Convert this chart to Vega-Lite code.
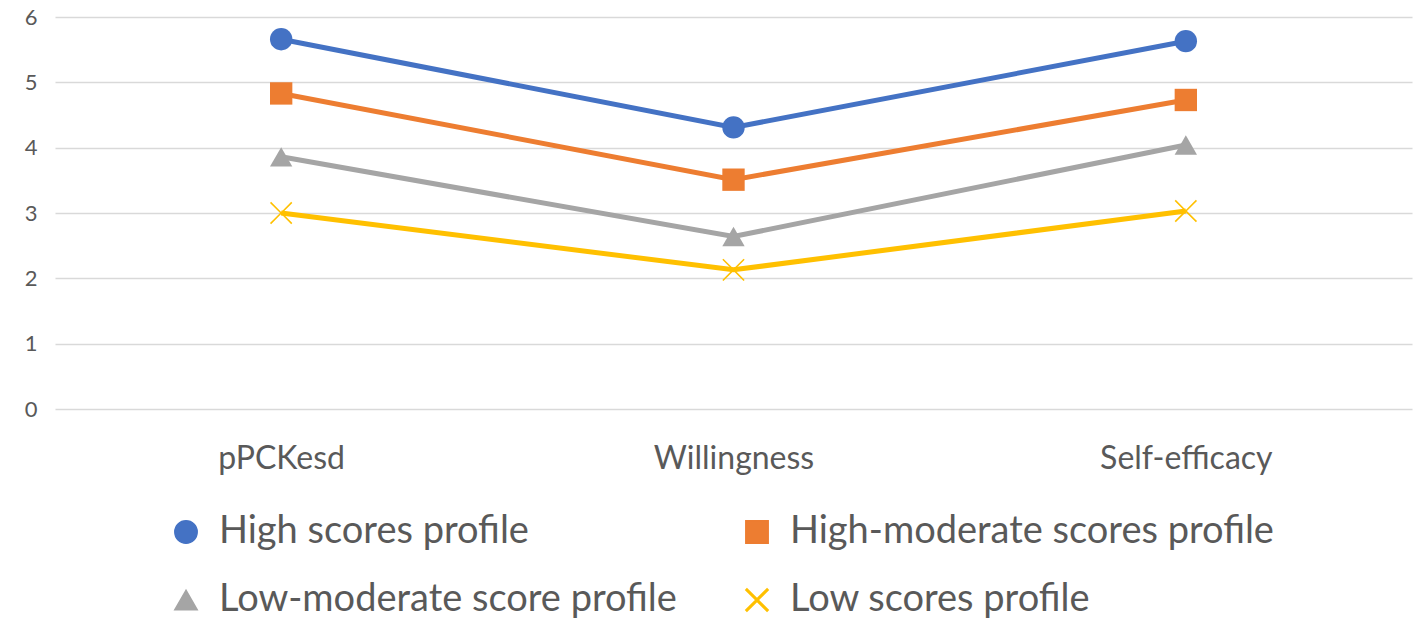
{
  "$schema": "https://vega.github.io/schema/vega-lite/v6.json",
  "width": 1357,
  "height": 392,
  "autosize": {"type": "none"},
  "padding": {"left": 55, "top": 17, "right": 14, "bottom": 211},
  "background": "white",
  "config": {
    "view": {"stroke": null},
    "font": "Lato"
  },
  "data": {
    "values": [
      {"profile": "High scores profile", "measure": "pPCKesd", "score": 5.66},
      {"profile": "High scores profile", "measure": "Willingness", "score": 4.31},
      {"profile": "High scores profile", "measure": "Self-efficacy", "score": 5.63},
      {"profile": "High-moderate scores profile", "measure": "pPCKesd", "score": 4.83},
      {"profile": "High-moderate scores profile", "measure": "Willingness", "score": 3.51},
      {"profile": "High-moderate scores profile", "measure": "Self-efficacy", "score": 4.73},
      {"profile": "Low-moderate score profile", "measure": "pPCKesd", "score": 3.86},
      {"profile": "Low-moderate score profile", "measure": "Willingness", "score": 2.64},
      {"profile": "Low-moderate score profile", "measure": "Self-efficacy", "score": 4.04},
      {"profile": "Low scores profile", "measure": "pPCKesd", "score": 3.0},
      {"profile": "Low scores profile", "measure": "Willingness", "score": 2.13},
      {"profile": "Low scores profile", "measure": "Self-efficacy", "score": 3.03}
    ]
  },
  "encoding": {
    "x": {
      "field": "measure",
      "type": "nominal",
      "sort": ["pPCKesd", "Willingness", "Self-efficacy"],
      "scale": {"type": "point", "padding": 0.5},
      "axis": {
        "title": null,
        "labelAngle": 0,
        "labelFontSize": 32,
        "labelColor": "#595959",
        "labelPadding": 34,
        "ticks": false,
        "domain": false,
        "grid": false
      }
    },
    "y": {
      "field": "score",
      "type": "quantitative",
      "scale": {"domain": [0, 6], "nice": false},
      "axis": {
        "title": null,
        "values": [0, 1, 2, 3, 4, 5, 6],
        "labelFontSize": 22,
        "labelColor": "#595959",
        "labelPadding": 18,
        "ticks": false,
        "domain": false,
        "grid": true,
        "gridColor": "#d9d9d9",
        "gridWidth": 1.5
      }
    },
    "color": {
      "field": "profile",
      "type": "nominal",
      "sort": ["High scores profile", "High-moderate scores profile", "Low-moderate score profile", "Low scores profile"],
      "scale": {
        "domain": ["High scores profile", "High-moderate scores profile", "Low-moderate score profile", "Low scores profile"],
        "range": ["#4472C4", "#ED7D31", "#A5A5A5", "#FFC000"]
      },
      "legend": {
        "title": null,
        "orient": "none",
        "legendX": 112,
        "legendY": 496,
        "direction": "horizontal",
        "columns": 2,
        "columnPadding": 61,
        "rowPadding": 30,
        "labelFontSize": 38,
        "labelColor": "#595959",
        "labelLimit": 800,
        "labelOffset": 14,
        "symbolSize": 500,
        "symbolOpacity": 1
      }
    }
  },
  "layer": [
    {
      "mark": {"type": "line", "strokeWidth": 5}
    },
    {
      "mark": {"type": "point", "filled": true, "opacity": 1},
      "encoding": {
        "shape": {
          "field": "profile",
          "type": "nominal",
          "sort": ["High scores profile", "High-moderate scores profile", "Low-moderate score profile", "Low scores profile"],
          "scale": {
            "domain": ["High scores profile", "High-moderate scores profile", "Low-moderate score profile", "Low scores profile"],
            "range": ["circle", "square", "triangle-up", "M-1,-0.9L-0.9,-1L0,-0.1L0.9,-1L1,-0.9L0.1,0L1,0.9L0.9,1L0,0.1L-0.9,1L-1,0.9L-0.1,0Z"]
          },
          "legend": {
            "title": null,
            "orient": "none",
            "legendX": 112,
            "legendY": 496,
            "direction": "horizontal",
            "columns": 2,
            "columnPadding": 61,
            "rowPadding": 30,
            "labelFontSize": 38,
            "labelColor": "#595959",
            "labelLimit": 800,
            "labelOffset": 14,
            "symbolSize": 500,
            "symbolOpacity": 1
          }
        },
        "size": {"value": 500}
      }
    }
  ]
}
